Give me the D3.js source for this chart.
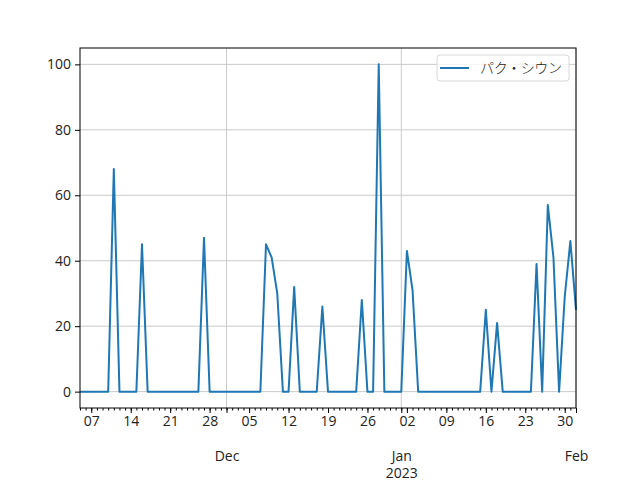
<!DOCTYPE html>
<html>
<head>
<meta charset="utf-8">
<script src="https://cdn.jsdelivr.net/npm/d3@7"></script>
<style>
  body { margin: 0; background: #fff; }
  text { font-family: "Open Sans", "Noto Sans CJK JP", sans-serif; }
</style>
</head>
<body>
<div id="chart"></div>
<script>
// series name and first day of data
const seriesName = "パク・シウン";
const startDate = "2022-11-05";

// one value per day from Nov 5 2022 to Feb 1 2023
const values = [
  0, 0, 0, 0, 0, 0, 68, 0, 0, 0, 0, 45, 0, 0, 0, 0, 0, 0, 0, 0, 0, 0, 47, 0, 0, 0,   // Nov 5 - Nov 30
  0, 0, 0, 0, 0, 0, 0, 45, 41, 30, 0, 0, 32, 0, 0, 0, 0, 26, 0, 0, 0, 0, 0, 0, 28, 0, 0, 100, 0, 0, 0, // Dec
  0, 43, 31, 0, 0, 0, 0, 0, 0, 0, 0, 0, 0, 0, 0, 25, 0, 21, 0, 0, 0, 0, 0, 0, 39, 0, 57, 41, 0, 29, 46, // Jan
  25 // Feb 1
];
const yTicks = [0, 20, 40, 60, 80, 100];

const parse = d3.timeParse("%Y-%m-%d");
const t0 = parse(startDate);
const data = values.map(function(v, i) { return {date: d3.timeDay.offset(t0, i), value: v}; });

let margin = {top: 48, right: 64, bottom: 72, left: 80};
let width = 640 - margin.left - margin.right,
    height = 480 - margin.top - margin.bottom;

const svg = d3.select("#chart")
  .append("svg")
    .attr("width", 640)
    .attr("height", 480)
  .append("g")
    .attr("transform", "translate(" + margin.left + "," + margin.top + ")");

let x = d3.scaleTime()
  .domain(d3.extent(data, function(d) { return d.date; }))
  .range([0, width]);

let y = d3.scaleLinear()
  .domain([-5, 105])
  .range([height, 0]);

const monthTicks = d3.timeMonth.range(d3.timeDay.offset(t0, 1), d3.timeDay.offset(x.domain()[1], 1));
const weekTicks = d3.timeMonday.range(t0, d3.timeDay.offset(x.domain()[1], 1));
const dayTicks = d3.timeDay.range(t0, d3.timeDay.offset(x.domain()[1], 1));

// grid
svg.append("g")
  .selectAll("line.hgrid")
  .data(yTicks)
  .enter().append("line")
    .attr("x1", 0).attr("x2", width)
    .attr("y1", function(d) { return y(d); })
    .attr("y2", function(d) { return y(d); })
    .attr("stroke", "#cbcbcb").attr("stroke-width", 1);

svg.append("g")
  .selectAll("line.vgrid")
  .data(monthTicks)
  .enter().append("line")
    .attr("x1", function(d) { return x(d); })
    .attr("x2", function(d) { return x(d); })
    .attr("y1", 0).attr("y2", height)
    .attr("stroke", "#cbcbcb").attr("stroke-width", 1);

// line
svg.append("path")
  .datum(data)
  .attr("fill", "none")
  .attr("stroke", "#1f77b4")
  .attr("stroke-width", 2)
  .attr("stroke-linejoin", "round")
  .attr("d", d3.line()
    .x(function(d) { return x(d.date); })
    .y(function(d) { return y(d.value); }));

// axes
const axisFont = 14;
const yAxis = svg.append("g")
  .call(d3.axisLeft(y).tickValues(yTicks).tickSize(5).tickPadding(4));
yAxis.select(".domain").remove();
yAxis.selectAll("text").style("font-size", axisFont + "px").attr("fill", "#222");

// minor daily ticks
svg.append("g")
  .attr("transform", "translate(0," + height + ")")
  .call(d3.axisBottom(x).tickValues(dayTicks).tickSize(2.5).tickFormat(""))
  .call(function(g) { g.select(".domain").remove(); });

// weekly labels
const xWeek = svg.append("g")
  .attr("transform", "translate(0," + height + ")")
  .call(d3.axisBottom(x).tickValues(weekTicks).tickSize(5).tickPadding(3).tickFormat(d3.timeFormat("%d")));
xWeek.select(".domain").remove();
xWeek.selectAll("text").style("font-size", axisFont + "px").attr("fill", "#222");

// month labels on a second row
const xMonth = svg.append("g")
  .attr("transform", "translate(0," + height + ")")
  .call(d3.axisBottom(x).tickValues(monthTicks).tickSize(5).tickFormat(""));
xMonth.select(".domain").remove();
xMonth.selectAll(".tick").each(function(d) {
  d3.select(this).append("text")
    .attr("y", 53)
    .attr("text-anchor", "middle")
    .attr("fill", "#222")
    .style("font-size", axisFont + "px")
    .text(d3.timeFormat("%b")(d));
  if (d.getMonth() === 0) {
    d3.select(this).append("text")
      .attr("y", 69.5)
      .attr("text-anchor", "middle")
      .attr("fill", "#222")
      .style("font-size", axisFont + "px")
      .text(d3.timeFormat("%Y")(d));
  }
});

// frame
svg.append("rect")
  .attr("width", width).attr("height", height)
  .attr("fill", "none").attr("stroke", "#000").attr("stroke-width", 1);

// legend
const legend = svg.append("g").attr("transform", "translate(" + (width - 139) + ",7)");
legend.append("rect")
  .attr("width", 132).attr("height", 26).attr("rx", 3)
  .attr("fill", "#fff").attr("fill-opacity", 0.8)
  .attr("stroke", "#d8d8d8");
legend.append("line")
  .attr("x1", 3).attr("x2", 32).attr("y1", 13).attr("y2", 13)
  .attr("stroke", "#1f77b4").attr("stroke-width", 2);
legend.append("text")
  .attr("x", 43).attr("y", 18)
  .attr("fill", "#222")
  .style("font-size", axisFont + "px")
  .style("font-family", "'Noto Sans CJK JP', sans-serif")
  .style("font-weight", 300)
  .attr("textLength", 82)
  .text(seriesName);
</script>
</body>
</html>
